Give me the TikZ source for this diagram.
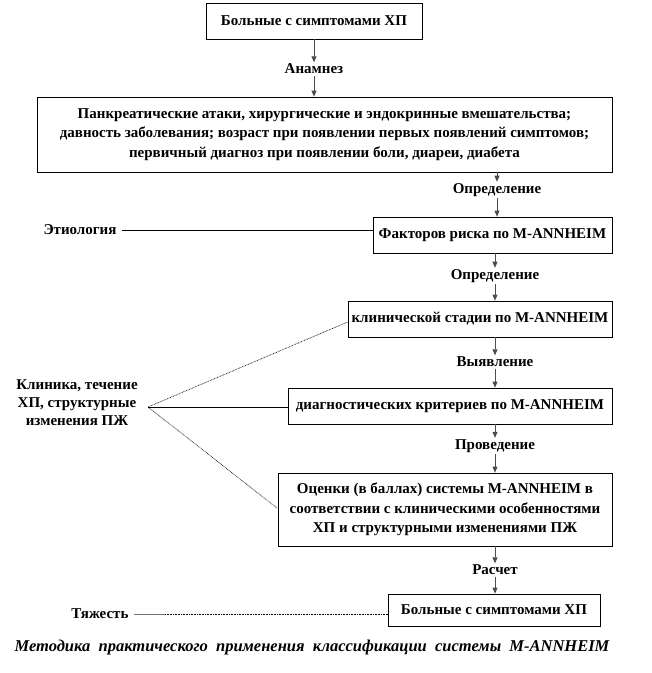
\documentclass[tikz,border=0pt]{standalone}
\usepackage{fontspec}
\setmainfont{Liberation Serif}
\usetikzlibrary{arrows.meta,calc}
\begin{document}
\begin{tikzpicture}[x=1pt,y=-1pt,
  every node/.style={font=\fontsize{15}{19.5}\selectfont\bfseries},
  box/.style={draw=black,line width=0.7pt,align=center,inner sep=2pt},
  lab/.style={inner sep=1.5pt},
  arr/.style={draw=black!70,line width=0.7pt,-{Triangle[width=5pt,length=6pt]}},
  side/.style={draw=black,line width=0.8pt},
  sidedot/.style={draw=black,line width=0.6pt,dash pattern=on 0.8pt off 0.8pt}]
\useasboundingbox (0,0) rectangle (652,673);
\node[box,minimum width=216pt,minimum height=36pt] (b1) at (314,21) {Больные с симптомами ХП};
\node[lab] (l1) at (314,69) {Анамнез};
\node[box,minimum width=575pt,minimum height=75pt] (b2) at (324.5,134.5)
  {Панкреатические атаки, хирургические и эндокринные вмешательства;\\
   давность заболевания; возраст при появлении первых появлений симптомов;\\
   первичный диагноз при появлении боли, диареи, диабета};
\node[lab] (l2) at (497,190) {Определение};
\node[box,minimum width=239pt,minimum height=36pt] (b3) at (492.5,235) {Факторов риска по M-ANNHEIM};
\node[lab] (l3) at (495,276) {Определение};
\node[box,minimum width=264pt,minimum height=36pt] (b4) at (480,319) {клинической стадии по M-ANNHEIM};
\node[lab] (l4) at (495,362) {Выявление};
\node[box,minimum width=324pt,minimum height=36pt] (b5) at (450,406) {диагностических критериев по M-ANNHEIM};
\node[lab] (l5) at (495,446) {Проведение};
\node[box,minimum width=334pt,minimum height=73pt] (b6) at (445,509.5)
  {Оценки (в баллах) системы M-ANNHEIM в\\
   соответствии с клиническими особенностями\\
   ХП и структурными изменениями ПЖ};
\node[lab] (l6) at (495,570) {Расчет};
\node[box,minimum width=212pt,minimum height=32pt] (b7) at (494,610) {Больные с симптомами ХП};
\node[lab] (etio) at (80,230) {Этиология};
\node[lab] (tyazh) at (100,614) {Тяжесть};
\node[lab,align=center,font=\fontsize{15}{18}\selectfont\bfseries] (klin) at (77,403) {Клиника, течение\\ХП, структурные\\изменения ПЖ};
\node[lab,font=\fontsize{16.5}{18}\selectfont\bfseries\itshape] (cap) at (312,648) {Методика\ \ практического\ \ применения\ \ классификации\ \ системы\ \ M-ANNHEIM};
% vertical flow
\draw[arr] (b1.south -| l1) -- (l1);
\draw[arr] (l1) -- (b2.north -| l1);
\draw[arr] (b2.south -| l2) -- (l2);
\draw[arr] (l2) -- (b3.north -| l2);
\draw[arr] (b3.south -| l3) -- (l3);
\draw[arr] (l3) -- (b4.north -| l3);
\draw[arr] (b4.south -| l4) -- (l4);
\draw[arr] (l4) -- (b5.north -| l4);
\draw[arr] (b5.south -| l5) -- (l5);
\draw[arr] (l5) -- (b6.north -| l5);
\draw[arr] (b6.south -| l6) -- (l6);
\draw[arr] (l6) -- (b7.north -| l6);
% side connectors
\draw[side] ([xshift=4pt]etio.east) -- (etio.east -| b3.west);
\coordinate (k) at (148,407);
\draw[sidedot] (k) -- ($(b4.west)+(0,3)$);
\draw[side] (k) -- (b5.west |- k);
\draw[sidedot] (k) -- ($(b6.west)+(0,-1)$);
\coordinate (t1) at (165,614);
\draw[draw=black!55,line width=1pt] ([xshift=4pt]tyazh.east |- t1) -- (t1);
\draw[sidedot] (t1) -- (b7.west |- t1);
\end{tikzpicture}
\end{document}
